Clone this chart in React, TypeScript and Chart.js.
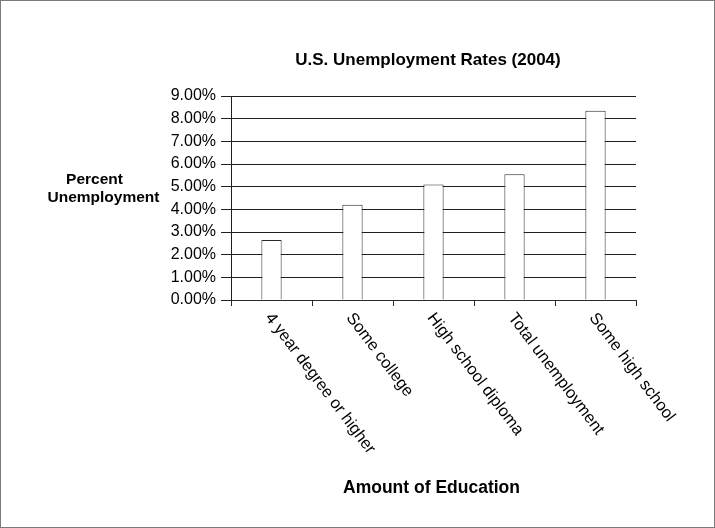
import React, { useEffect, useRef } from 'react';
import { Chart, registerables } from 'chart.js';

Chart.register(...registerables);

const categories = [
  '4 year degree or higher',
  'Some college',
  'High school diploma',
  'Total unemployment',
  'Some high school',
];
const unemploymentRates = [2.65, 4.2, 5.1, 5.55, 8.35];
const yMin = 0;
const yMax = 9;
const yStep = 1;
const chartTitle = 'U.S. Unemployment Rates (2004)';
const yTitleLines = ['Percent', 'Unemployment'];
const xTitle = 'Amount of Education';

const FONT = '"Liberation Sans", Arial, Helvetica, sans-serif';

const decorPlugin = {
  id: 'decor',
  afterDraw(chart: any) {
    const ctx = chart.ctx as CanvasRenderingContext2D;
    const xs = chart.scales.x;
    ctx.save();
    // frame
    ctx.strokeStyle = '#7a7a7a';
    ctx.lineWidth = 1;
    ctx.strokeRect(0.5, 0.5, chart.width - 1, chart.height - 1);

    ctx.fillStyle = '#000';
    // title
    ctx.font = `bold 17px ${FONT}`;
    ctx.textAlign = 'center';
    ctx.textBaseline = 'alphabetic';
    ctx.fillText(chartTitle, 428, 64.5);

    // y title
    ctx.font = `bold 15.5px ${FONT}`;
    ctx.fillText(yTitleLines[0], 94.5, 183.5);
    ctx.fillText(yTitleLines[1], 103.5, 202);

    // x title
    ctx.font = `bold 17.5px ${FONT}`;
    ctx.fillText(xTitle, 431.5, 492.5);

    // rotated category labels
    ctx.font = `16.5px ${FONT}`;
    ctx.textAlign = 'left';
    ctx.textBaseline = 'middle';
    const ang = (53 * Math.PI) / 180;
    categories.forEach((c, i) => {
      const px = xs.getPixelForValue(i);
      ctx.save();
      ctx.translate(px - 3, 315);
      ctx.rotate(ang);
      ctx.fillText(c, 0, 0);
      ctx.restore();
    });
    ctx.restore();
  },
};

export default function App() {
  const ref = useRef<HTMLCanvasElement | null>(null);
  useEffect(() => {
    if (!ref.current) return;
    const chart = new Chart(ref.current, {
      type: 'bar',
      data: {
        labels: categories,
        datasets: [
          {
            data: unemploymentRates,
            backgroundColor: '#ffffff',
            borderColor: '#2a2a2a',
            borderWidth: 1,
            categoryPercentage: 0.5,
            barPercentage: 0.5,
          },
        ],
      },
      options: {
        responsive: false,
        animation: false,
        layout: { padding: { left: 151, right: 79, top: 96, bottom: 218 } },
        plugins: {
          legend: { display: false },
          title: { display: false },
          tooltip: { enabled: false },
        },
        scales: {
          x: {
            afterFit: (s: any) => {
              s.height = 10;
            },
            ticks: { display: false },
            grid: {
              offset: true,
              drawOnChartArea: false,
              drawTicks: true,
              tickLength: 6,
              color: '#2a2a2a',
            },
            border: { display: true, color: '#2a2a2a' },
          },
          y: {
            min: yMin,
            max: yMax,
            afterFit: (s: any) => {
              s.width = 80;
            },
            ticks: {
              stepSize: yStep,
              autoSkip: false,
              color: '#000',
              padding: 5,
              font: { family: FONT, size: 16 },
              callback: (v: any) => Number(v).toFixed(2) + '%',
            },
            grid: {
              color: '#1f1f1f',
              tickLength: 10,
              drawTicks: true,
            },
            border: { display: true, color: '#1f1f1f' },
          },
        },
      },
      plugins: [decorPlugin],
    });
    return () => chart.destroy();
  }, []);
  return (
    <div style={{ position: 'absolute', left: 0, top: 0, width: 715, height: 528, background: '#fff' }}>
      <canvas ref={ref} width={715} height={528} style={{ display: 'block' }} />
    </div>
  );
}
